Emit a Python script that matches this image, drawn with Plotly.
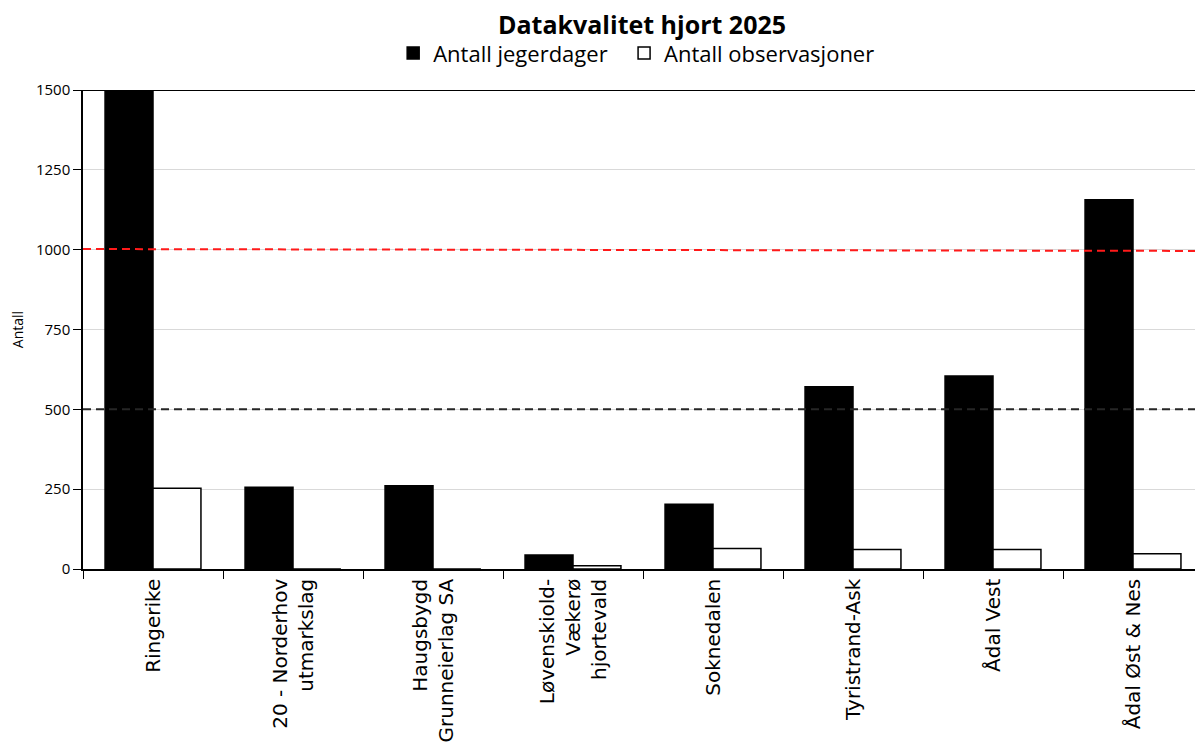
import plotly.graph_objects as go

categories = [
    "Ringerike",
    "20 - Norderhov<br>utmarkslag",
    "Haugsbygd<br>Grunneierlag SA",
    "Løvenskiold-<br>Vækerø<br>hjortevald",
    "Soknedalen",
    "Tyristrand-Ask",
    "Ådal Vest",
    "Ådal Øst & Nes",
]
jegerdager = [1620, 256, 261, 44, 203, 571, 604, 1156]
observasjoner = [253, 0, 0, 10, 64, 61, 61, 48]
y_ticks = [0, 250, 500, 750, 1000, 1250, 1500]
red_line = [1002, 996]
black_line = [500, 500]

fig = go.Figure()
fig.add_trace(go.Bar(
    x=categories, y=jegerdager, name="Antall jegerdager\u00a0\u00a0",
    marker=dict(color="black", line=dict(color="black", width=1.5)),
))
fig.add_trace(go.Bar(
    x=categories, y=observasjoner, name="Antall observasjoner",
    marker=dict(color="white", line=dict(color="black", width=1.5)),
))

fig.add_shape(type="line", xref="paper", yref="y", x0=0, x1=1,
              y0=red_line[0], y1=red_line[1],
              line=dict(color="#ff1a1a", width=2, dash="8px,5px"), layer="above")
fig.add_shape(type="line", xref="paper", yref="y", x0=0, x1=1,
              y0=black_line[0], y1=black_line[1],
              line=dict(color="#262626", width=2, dash="8px,5px"), layer="above")
fig.add_shape(type="line", xref="paper", yref="y", x0=0, x1=1,
              y0=y_ticks[-1], y1=y_ticks[-1],
              line=dict(color="black", width=2), layer="above")

# page body has an 8px margin; compensate so the plot area lands at 80..1203 x 90..569
fig.update_layout(
    width=1195, height=746,
    margin=dict(l=72, r=0, t=82, b=185),
    paper_bgcolor="white", plot_bgcolor="white",
    barmode="group", bargap=0.315, bargroupgap=0,
    title=dict(text="<b>Datakvalitet hjort 2025</b>", x=(642 - 8) / 1195, xanchor="center",
               y=1 - 17 / 746, yanchor="middle", yref="container",
               font=dict(family="Open Sans, sans-serif", size=25, color="black")),
    legend=dict(orientation="h", x=(391 - 80) / 1123, xanchor="left", y=1.077, yanchor="middle",
                font=dict(family="Open Sans, sans-serif", size=22, color="black"),
                itemwidth=30, traceorder="normal"),
    font=dict(family="Open Sans, sans-serif", color="black"),
)
fig.update_yaxes(
    range=[0, 1500], tickvals=y_ticks, showgrid=True, gridcolor="#d9d9d9", gridwidth=1,
    showline=True, linecolor="black", linewidth=1.5, ticks="outside", ticklen=8,
    tickcolor="black", tickfont=dict(size=15, family="Open Sans, sans-serif"),
    title=dict(text="Antall", font=dict(size=14, family="Open Sans, sans-serif"), standoff=18),
    zeroline=False,
)
fig.update_xaxes(
    tickangle=-90, showline=True, linecolor="black", linewidth=1.5,
    ticks="outside", ticklen=8, tickcolor="black", tickson="boundaries",
    tickfont=dict(size=20, family="DejaVu Sans, sans-serif"),
    showgrid=False,
)

fig.write_html("out.html")
